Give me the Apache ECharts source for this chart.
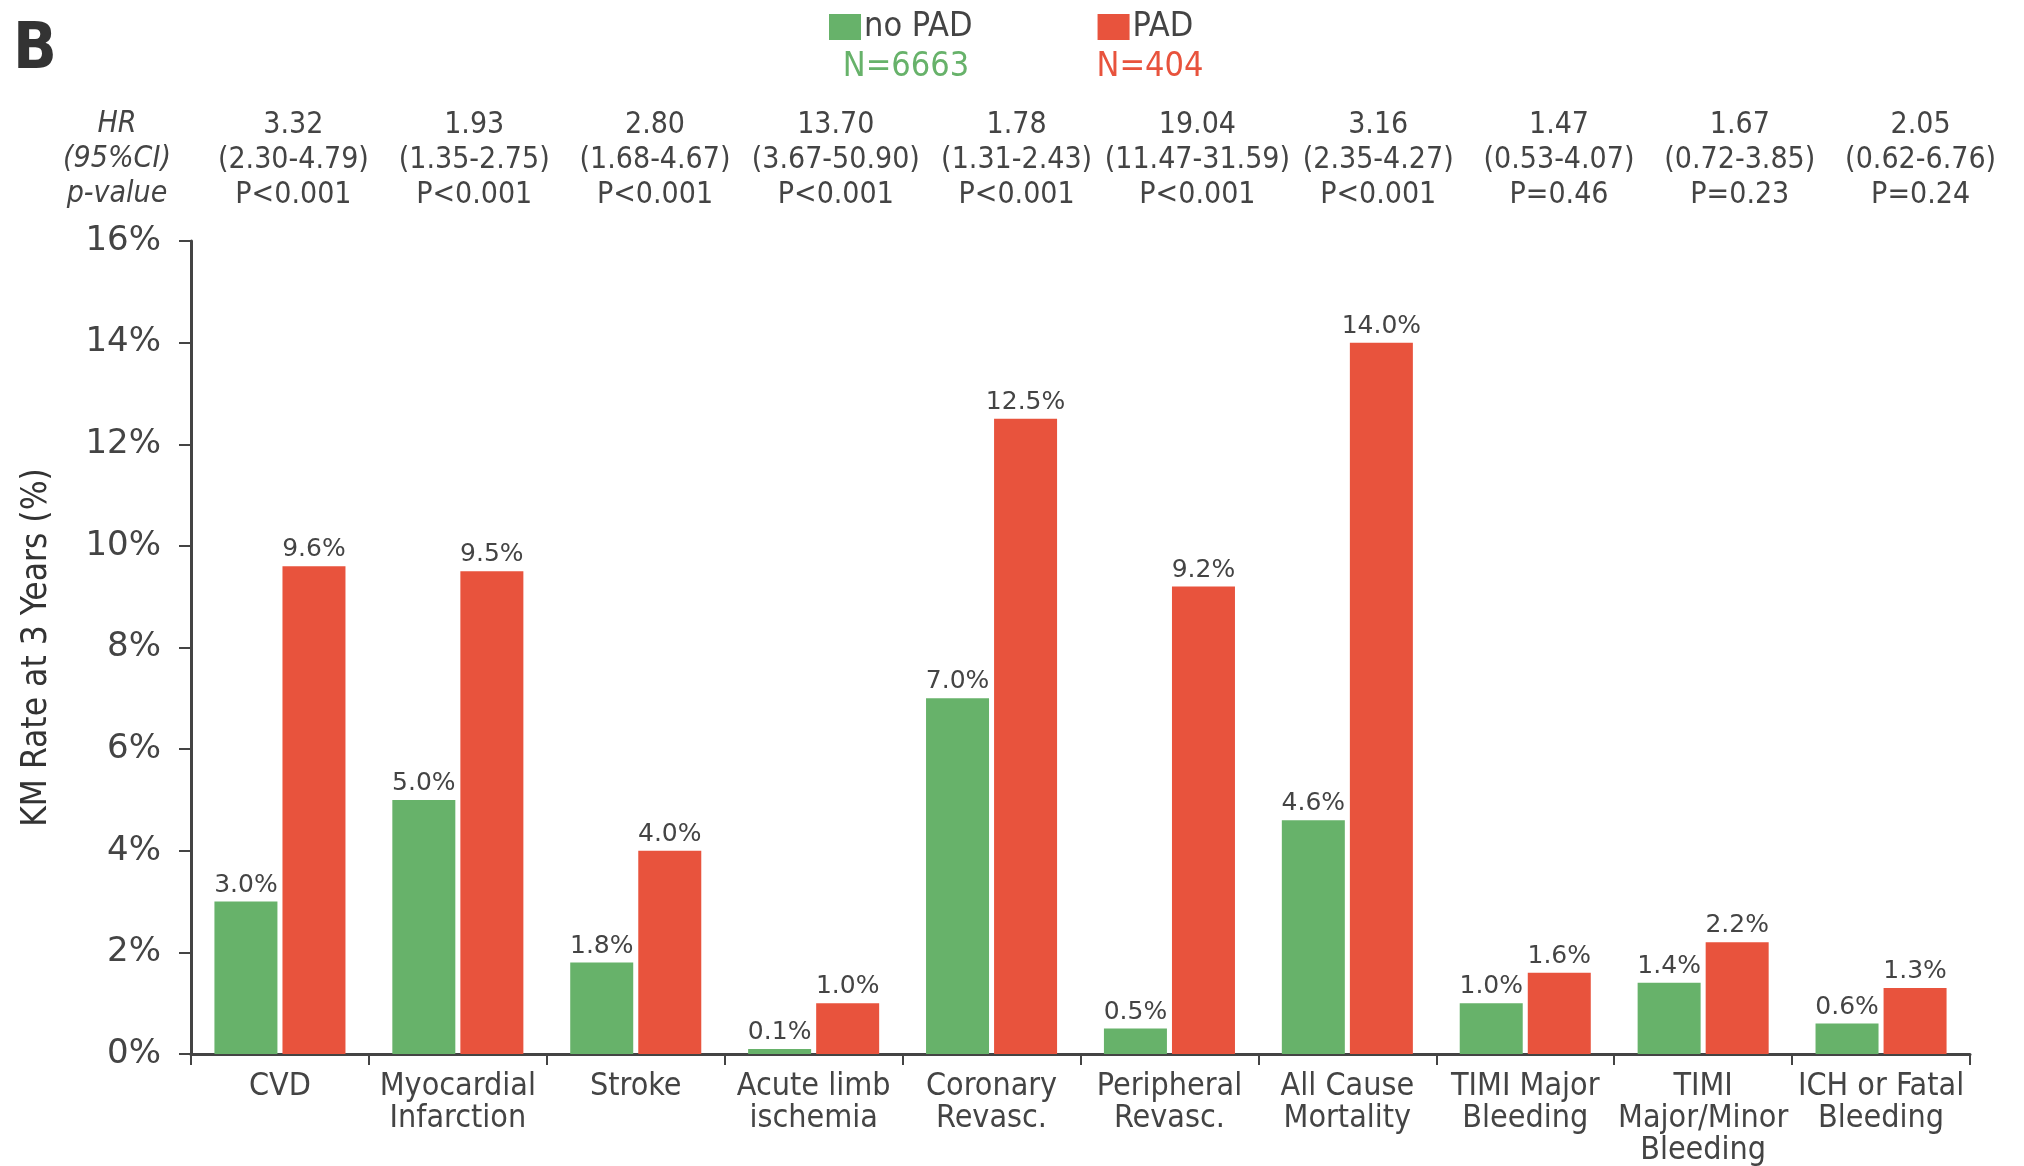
<!DOCTYPE html>
<html>
<head>
<meta charset="utf-8">
<script src="https://cdn.jsdelivr.net/npm/echarts@6/dist/echarts.min.js"></script>
<style>
  html, body { margin: 0; padding: 0; background: #fff; }
  #chart { width: 2024px; height: 1166px; }
</style>
</head>
<body>
<div id="chart"></div>
<script>
// Outcome categories along the x axis
const categories = [
  'CVD', 'Myocardial\nInfarction', 'Stroke', 'Acute limb\nischemia', 'Coronary\nRevasc.',
  'Peripheral\nRevasc.', 'All Cause\nMortality', 'TIMI Major\nBleeding', 'TIMI\nMajor/Minor\nBleeding', 'ICH or Fatal\nBleeding'
];
// KM rate at 3 years (%)
const noPadRates = [3.0, 5.0, 1.8, 0.1, 7.0, 0.5, 4.6, 1.0, 1.4, 0.6];
const padRates = [9.6, 9.5, 4.0, 1.0, 12.5, 9.2, 14.0, 1.6, 2.2, 1.3];
// Hazard ratios, confidence intervals and p-values shown above each group
const hazardRatios = ['3.32', '1.93', '2.80', '13.70', '1.78', '19.04', '3.16', '1.47', '1.67', '2.05'];
const confIntervals = ['(2.30-4.79)', '(1.35-2.75)', '(1.68-4.67)', '(3.67-50.90)', '(1.31-2.43)',
  '(11.47-31.59)', '(2.35-4.27)', '(0.53-4.07)', '(0.72-3.85)', '(0.62-6.76)'];
const pValues = ['P<0.001', 'P<0.001', 'P<0.001', 'P<0.001', 'P<0.001', 'P<0.001', 'P<0.001', 'P=0.46', 'P=0.23', 'P=0.24'];
const yTicks = [0, 2, 4, 6, 8, 10, 12, 14, 16];
const seriesNames = ['no PAD', 'PAD'];
const groupSizes = ['N=6663', 'N=404'];

const GREEN = '#67b26a';
const RED = '#e8533d';
const INK = '#444444';
const NARROW = '"DejaVu Sans Condensed", "Liberation Sans Narrow", sans-serif';

const chart = echarts.init(document.getElementById('chart'));

const dataLabel = {
  show: true,
  position: 'top',
  distance: 4,
  fontFamily: 'DejaVu Sans',
  fontSize: 25,
  color: INK,
  formatter: p => p.value.toFixed(1) + '%'
};

chart.setOption({
  animation: false,
  backgroundColor: '#ffffff',
  color: [GREEN, RED],
  legend: {
    data: seriesNames,
    left: 829,
    top: 10,
    padding: 0,
    itemWidth: 32,
    itemHeight: 26,
    itemGap: 125,
    icon: 'rect',
    textStyle: { fontFamily: NARROW, fontSize: 34, color: INK, padding: [0, 0, 0, -2] }
  },
  graphic: [
    { type: 'text', left: 13, top: 19, style: { text: 'B', font: 'bold 64px "DejaVu Sans Condensed", sans-serif', fill: '#333' } },
    { type: 'text', x: 906, y: 67, style: { text: groupSizes[0], font: '34px ' + NARROW, fill: GREEN, align: 'center', verticalAlign: 'middle' } },
    { type: 'text', x: 1150, y: 67, style: { text: groupSizes[1], font: '34px ' + NARROW, fill: RED, align: 'center', verticalAlign: 'middle' } },
    { type: 'text', x: 117, y: 124, style: { text: 'HR', font: 'italic 30px ' + NARROW, fill: INK, align: 'center', verticalAlign: 'middle' } },
    { type: 'text', x: 117, y: 159, style: { text: '(95%CI)', font: 'italic 30px ' + NARROW, fill: INK, align: 'center', verticalAlign: 'middle' } },
    { type: 'text', x: 117, y: 194, style: { text: 'p-value', font: 'italic 30px ' + NARROW, fill: INK, align: 'center', verticalAlign: 'middle' } }
  ],
  grid: [
    // plotting area
    { left: 191, right: 54, top: 241, bottom: 112, containLabel: false, outerBoundsMode: 'none' },
    // statistics header band, columns spaced slightly wider than the plot
    { left: 203, right: 13, top: 241, height: 10, containLabel: false, outerBoundsMode: 'none', show: false }
  ],
  xAxis: [
    {
      type: 'category',
      gridIndex: 0,
      data: categories,
      axisLine: { lineStyle: { color: INK, width: 3 } },
      axisTick: { show: true, length: 11, lineStyle: { color: INK, width: 2 } },
      axisLabel: { fontFamily: NARROW, fontSize: 32, lineHeight: 32, color: INK, margin: 17, interval: 0 }
    },
    {
      type: 'category',
      gridIndex: 1,
      position: 'top',
      data: categories,
      axisLine: { show: false },
      axisTick: { show: false },
      axisLabel: {
        interval: 0,
        margin: 28,
        fontFamily: NARROW,
        fontSize: 30,
        lineHeight: 35,
        color: INK,
        formatter: (v, i) => hazardRatios[i] + '\n' + confIntervals[i] + '\n' + pValues[i]
      }
    }
  ],
  yAxis: [
    {
      type: 'value',
      gridIndex: 0,
      min: yTicks[0],
      max: yTicks[yTicks.length - 1],
      interval: 2,
      name: 'KM Rate at 3 Years (%)',
      nameLocation: 'middle',
      nameRotate: 90,
      nameGap: 137,
      nameTextStyle: { fontFamily: NARROW, fontSize: 35, color: '#333' },
      splitLine: { show: false },
      axisLine: { show: true, lineStyle: { color: INK, width: 3 } },
      axisTick: { show: true, length: 12, lineStyle: { color: INK, width: 2 } },
      axisLabel: { fontFamily: 'DejaVu Sans', fontSize: 34, color: INK, margin: 30, formatter: '{value}%' }
    },
    {
      type: 'value',
      gridIndex: 1,
      show: false,
      splitLine: { show: false }
    }
  ],
  series: [
    {
      name: seriesNames[0],
      type: 'bar',
      data: noPadRates,
      barWidth: 63,
      barGap: '8%',
      itemStyle: { color: GREEN },
      label: dataLabel
    },
    {
      name: seriesNames[1],
      type: 'bar',
      data: padRates,
      barWidth: 63,
      barGap: '8%',
      itemStyle: { color: RED },
      label: dataLabel
    }
  ]
});
</script>
</body>
</html>
